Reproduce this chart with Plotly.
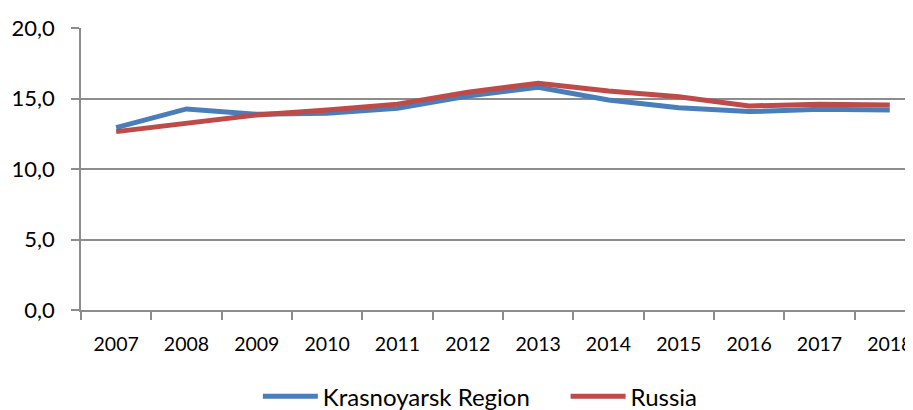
import plotly.graph_objects as go

years = ["2007", "2008", "2009", "2010", "2011", "2012", "2013", "2014", "2015", "2016", "2017", "2018"]
krasnoyarsk = [12.93, 14.26, 13.88, 13.95, 14.3, 15.18, 15.79, 14.89, 14.35, 14.07, 14.23, 14.18]
russia = [12.65, 13.24, 13.83, 14.18, 14.6, 15.44, 16.08, 15.53, 15.13, 14.47, 14.6, 14.54]
y_ticks = [0, 5, 10, 15, 20]
series_names = ["Krasnoyarsk Region" + "\u00a0" * 5, "Russia"]

FONT = "Lato"

fig = go.Figure()
fig.add_trace(go.Scatter(x=years, y=krasnoyarsk, mode="lines", name=series_names[0],
                         line=dict(color="#4a7ebb", width=5)))
fig.add_trace(go.Scatter(x=years, y=russia, mode="lines", name=series_names[1],
                         line=dict(color="#be4b48", width=5)))

# page body has an 8px default margin, so the figure is sized/offset to compensate
fig.update_layout(
    width=905, height=402,
    margin=dict(l=73, r=0, t=20, b=100),
    paper_bgcolor="white", plot_bgcolor="white",
    separators=", ",
    font=dict(family=FONT, size=20, color="#000000"),
    showlegend=True,
    legend=dict(orientation="h", x=0.48, xanchor="center", xref="paper",
                y=0.033, yanchor="middle", yref="container",
                font=dict(family=FONT, size=24, color="#000000"), itemwidth=55,
                traceorder="normal"),
    xaxis=dict(type="category", range=[-0.5, 11.33], showgrid=False, automargin=False,
               showline=True, linecolor="#8c8c8c", linewidth=1.5,
               ticks="outside", ticklen=8, tickcolor="#8c8c8c", tickwidth=1.5,
               tickson="boundaries", ticklabelstandoff=16,
               tickfont=dict(family=FONT, size=19.5, color="#000000")),
    yaxis=dict(range=[0, 20], tickvals=y_ticks, tickformat=".1f", automargin=False,
               showgrid=True, gridcolor="#8c8c8c", gridwidth=1.5,
               showline=True, linecolor="#8c8c8c", linewidth=1.5,
               ticks="outside", ticklen=8, tickcolor="#8c8c8c", tickwidth=1.5,
               ticklabelstandoff=12, zeroline=False,
               tickfont=dict(family=FONT, size=22, color="#000000")),
)

fig.write_html("out.html")
